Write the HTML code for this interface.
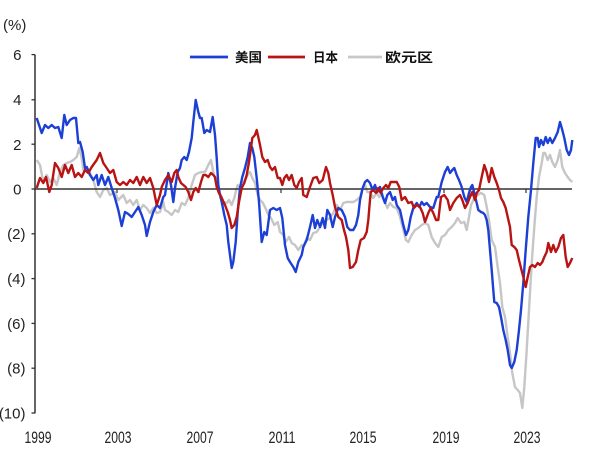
<!DOCTYPE html>
<html>
<head>
<meta charset="utf-8">
<style>
html,body{margin:0;padding:0;background:#fff;}
svg{display:block;}
text{font-family:"Liberation Sans",Arial,sans-serif;fill:#222;}
.cjk{font-family:"Liberation Sans","Noto Sans CJK SC",sans-serif;font-weight:bold;fill:#111;}
</style>
</head>
<body>
<svg width="600" height="450" viewBox="0 0 600 450" xmlns="http://www.w3.org/2000/svg">
<rect width="600" height="450" fill="#fff"/>
<text x="3" y="30" font-size="15">(%)</text>
<line x1="35" y1="54.6" x2="35" y2="413.4" stroke="#333" stroke-width="1.5"/>
<g stroke="#333" stroke-width="1.3">
<line x1="31.5" y1="54.6" x2="35" y2="54.6"/>
<line x1="31.5" y1="99.8" x2="35" y2="99.8"/>
<line x1="31.5" y1="144.2" x2="35" y2="144.2"/>
<line x1="31.5" y1="189" x2="35" y2="189"/>
<line x1="31.5" y1="233.8" x2="35" y2="233.8"/>
<line x1="31.5" y1="278.6" x2="35" y2="278.6"/>
<line x1="31.5" y1="323.4" x2="35" y2="323.4"/>
<line x1="31.5" y1="368.2" x2="35" y2="368.2"/>
<line x1="31.5" y1="413" x2="35" y2="413"/>
</g>
<g font-size="15">
<text x="21.5" y="60" text-anchor="end">6</text>
<text x="21.5" y="105" text-anchor="end">4</text>
<text x="21.5" y="150" text-anchor="end">2</text>
<text x="21.5" y="194.5" text-anchor="end">0</text>
<text x="25.5" y="239" text-anchor="end">(2)</text>
<text x="25.5" y="284" text-anchor="end">(4)</text>
<text x="25.5" y="329" text-anchor="end">(6)</text>
<text x="25.5" y="373.5" text-anchor="end">(8)</text>
<text x="25.5" y="418.5" text-anchor="end">(10)</text>
</g>
<g font-size="17" style="fill:#1a1a1a">
<text x="24.5" y="443" textLength="27" lengthAdjust="spacingAndGlyphs">1999</text>
<text x="104.5" y="443" textLength="27" lengthAdjust="spacingAndGlyphs">2003</text>
<text x="186.5" y="443" textLength="27" lengthAdjust="spacingAndGlyphs">2007</text>
<text x="268.5" y="443" textLength="27" lengthAdjust="spacingAndGlyphs">2011</text>
<text x="349.5" y="443" textLength="27" lengthAdjust="spacingAndGlyphs">2015</text>
<text x="432.5" y="443" textLength="27" lengthAdjust="spacingAndGlyphs">2019</text>
<text x="513.5" y="443" textLength="27" lengthAdjust="spacingAndGlyphs">2023</text>
</g>
<line x1="190" y1="57" x2="228" y2="57" stroke="#1c3fd6" stroke-width="2.8"/>
<text class="cjk" x="235" y="62" font-size="13" textLength="27" lengthAdjust="spacingAndGlyphs">美国</text>
<line x1="268" y1="57" x2="305" y2="57" stroke="#b81414" stroke-width="2.8"/>
<text class="cjk" x="313" y="62" font-size="13" textLength="25" lengthAdjust="spacingAndGlyphs">日本</text>
<line x1="348" y1="57" x2="382" y2="57" stroke="#c8c8c8" stroke-width="2.8"/>
<text class="cjk" x="385" y="62" font-size="13" textLength="48" lengthAdjust="spacingAndGlyphs">欧元区</text>

<polyline fill="none" stroke="#c6c6c6" stroke-width="2.4" stroke-linejoin="round" points="36.7,160 40,165 43.3,182 46.7,175 50,182 53.3,178 56.7,185 60,172 63.3,165 66.7,163 70,162 73.3,160 76.7,157 79.3,148 81.7,158 83.3,170 86.7,167 90,173 93.3,180 96.7,192 100,197 103.3,190 106.7,188 110,195 115,192 118.3,200 123.3,195 126.7,203 130,200 133.3,205 136.7,200 140,210 143.3,205 146.7,208 150,213 153.3,208 156.7,213 160,212 163.3,202 165,210 168.3,212 171.7,215 175,210 178.3,212 181.7,203 185,205 188.3,198 191.7,185 195,175 198.3,173 201.7,172 205,172 208.3,165 211,160 213.3,172 215.7,182 218.3,192 221,195 223.3,202 226.7,203 229,200 231.7,205 234.3,198 235.7,192 237.7,185 240,188 242.3,183 245,180 247.7,175 250,172 252.3,178 255,183 257.7,195 260,200 262.3,202 265,207 268.3,215 271,218 274.3,225 277.7,222 280,232 283.3,235 285.7,242 289,237 291.7,243 295,245 298.3,250 301.7,245 303.3,247 306.7,238 310,240 313.3,233 316.7,232 320,227 323.3,222 326.7,220 330,218 333.3,213 336.7,205 340,210 343.3,203 346.7,202 350,202 353.3,202 356.7,200 360,197 362.7,188 365,185 367.3,192 370,192 373.3,198 376.7,193 379.3,197 381.7,193 385,202 387.3,208 390,203 393.3,207 396.7,208 400,217 403.3,230 406,240 408.3,242 411.7,235 415,230 418.3,228 421.7,225 425,223 428.3,225 431.7,237 435,243 438.3,247 441.7,237 445,235 448.3,230 451.7,227 455,223 457.7,218 461,223 464.3,222 466.7,230 469,217 471,205 474.3,198 477.7,195 481,193 484.3,195 486.7,207 489,220 491.7,240 495,247 497.7,267 500,283 502.3,307 505,317 507.7,337 510,353 512.3,373 515,387 517.7,390 520,393 522.3,408 524.3,387 526.7,350 529,310 531.7,263 534.3,227 536.7,197 539,177 541.7,163 543.3,153 545,153 547.7,160 550,155 552.3,162 555,167 557.7,160 560,150 562.3,167 565,173 567.7,177 570,180 572.3,182"/>

<line x1="35" y1="189" x2="572" y2="189" stroke="#333" stroke-width="1.6"/>
<g stroke="#333" stroke-width="1.2">
<line x1="117" y1="189" x2="117" y2="193"/>
<line x1="199" y1="189" x2="199" y2="193"/>
<line x1="281" y1="189" x2="281" y2="193"/>
<line x1="362" y1="189" x2="362" y2="193"/>
<line x1="444" y1="189" x2="444" y2="193"/>
<line x1="526" y1="189" x2="526" y2="193"/>
</g>

<polyline fill="none" stroke="#1c3fd6" stroke-width="2.4" stroke-linejoin="round" points="36.7,118 41.7,133 45,125 48.3,128 51.7,125 55,128 58.3,127 61.7,138 64.3,115 66.7,125 70,120 73.3,118 76,118 78.3,143 80,142 82.7,152 85,168 86.7,167 90,175 93.3,180 96.7,175 98.3,185 101.7,175 105,185 108.3,177 111.7,188 115,198 118.3,210 121.7,226 125,212 128.3,214 131.7,217 135,212 138.3,207 141.7,215 145,225 146.7,236 150,222 153.3,212 156.7,205 160,208 163.3,197 165,195 168.3,173 171,185 173.3,202 175,188 177.7,172 180,168 181.7,160 184.3,157 186.7,160 189,152 191.7,138 193.3,122 195.7,100 198.3,112 200,118 201.7,118 204.3,133 206.7,130 210,132 212.7,117 215,135 216.7,158 218.3,185 220,195 221.7,202 224.3,215 226.7,225 228.3,242 231.7,268 233.3,262 235.7,242 237.7,212 240,188 242.3,177 245,168 247.7,157 250,143 252.3,148 254.3,157 256.7,178 259,202 261.7,242 264.3,232 266.7,235 270,210 273.3,208 276.7,210 280,208 282.3,218 285,245 287.7,258 290,262 293.3,267 295.7,272 298.3,262 301.7,255 303.3,247 306.7,240 310,227 312.7,215 315,228 317.3,220 320,227 322.7,218 325,228 327.3,210 330,215 332.7,227 335,217 338.3,208 341.7,210 345,217 347.3,227 350,230 353.3,230 356,225 358.3,215 360,200 362.7,188 365,182 367.3,180 370,183 372.7,190 375,185 377.3,192 380,187 382.7,197 385,203 387.3,195 390,192 392.7,200 395,197 396.7,205 400,210 403.3,225 406,235 408.3,230 410.7,217 413.3,208 416.7,203 419.3,207 421.7,202 424,205 426.7,203 430,207 433.3,208 436.7,197 438.3,197 441.7,182 445,172 447.7,167 450,173 452.3,170 454.3,168 456.7,175 459,180 461.7,187 464.3,197 466.7,202 469,193 471,187 472.3,185 474.3,193 476.7,203 478.3,210 481,212 483.3,213 485,215 486.7,220 488.3,230 490,250 491.7,270 493.3,290 494.3,302 496.7,303 499,307 501,317 503.3,330 505.7,340 507.7,350 510,365 511.7,368 514.3,362 516.7,350 519,330 521,310 523.3,283 525.7,250 528.3,217 531,190 533.3,163 535.7,138 537.7,138 539,147 541,140 543.3,145 545.7,137 547.7,143 550,138 552.3,143 555,138 557.7,132 560,122 562.3,130 564.3,138 566.7,150 569,155 571,150 572.3,140"/>

<polyline fill="none" stroke="#b81414" stroke-width="2.4" stroke-linejoin="round" points="36.7,188 40,178 43.3,183 46,177 49.3,192 51.7,185 55,163 58.3,168 61.7,177 65,165 68.3,173 71.7,165 75,177 78.3,173 81.7,177 85,170 88.3,173 91.7,167 96.7,160 100,153 103.3,163 106.7,168 110,173 113.3,170 116.7,182 120,185 123.3,182 126.7,185 130,180 133.3,183 136.7,177 140,185 143.3,177 146.7,183 150,178 153.3,188 156.7,205 160,195 161.7,187 165,180 168.3,175 171.7,182 174.3,173 176.7,170 178.3,177 181,183 183.3,185 185.7,187 188.3,192 191,200 193.3,192 195.7,188 198.3,192 201,182 203.3,175 205.7,175 208.3,177 211,173 213.3,175 215,177 216.7,187 219,193 221.7,198 225,205 227.7,212 230,220 231.7,228 234.3,225 236.7,217 239,202 241.7,188 244.3,183 246.7,175 249,162 251,148 252.3,138 255,135 256.7,130 258.3,137 260,145 262.3,157 265,162 267.7,160 270,167 272.3,170 275,167 277.7,178 280,178 282.3,185 284.3,178 286.7,175 289,180 291.7,175 294.3,185 296.7,188 299,182 301.7,178 303.3,195 306.7,197 310,187 313.3,178 316.7,177 319.3,183 322.7,180 326,167 328.3,173 330,183 332.7,195 335,207 338.3,217 341.7,220 344,230 346,237 348.3,250 350,268 352.7,267 356,262 358.3,250 360.7,240 364,238 366.7,232 368.3,220 369.3,208 370.7,192 373.3,190 376,193 378.3,188 380.7,193 383.3,188 386,185 388.3,188 390.7,182 393.3,182 396.7,182 399.3,187 401.7,200 405,197 408.3,203 411.7,202 414,208 416.7,205 420,207 422.7,213 425,222 428.3,213 430.7,208 433.3,213 436,220 438.3,220 441,197 444.3,195 447.7,200 450,210 453.3,203 456.7,198 460,195 462.3,200 465,208 467.7,203 470,197 472.3,192 475,200 476.7,193 479,190 481.7,177 484.3,165 486.7,172 489,182 491.7,168 494.3,177 496.7,183 499,190 501,198 503.3,202 505.7,208 507.7,217 510,227 511.7,245 514.3,247 516.7,250 519,260 521,268 523.3,277 525.7,287 527.7,277 530,267 532.3,265 535,267 537.7,263 540,265 542.3,262 544.3,257 546.7,252 548.3,243 551,252 553.3,245 555.7,252 558.3,247 561,238 563.3,235 565.7,257 567.7,267 570,263 572.3,258"/>
</svg>
</body>
</html>
